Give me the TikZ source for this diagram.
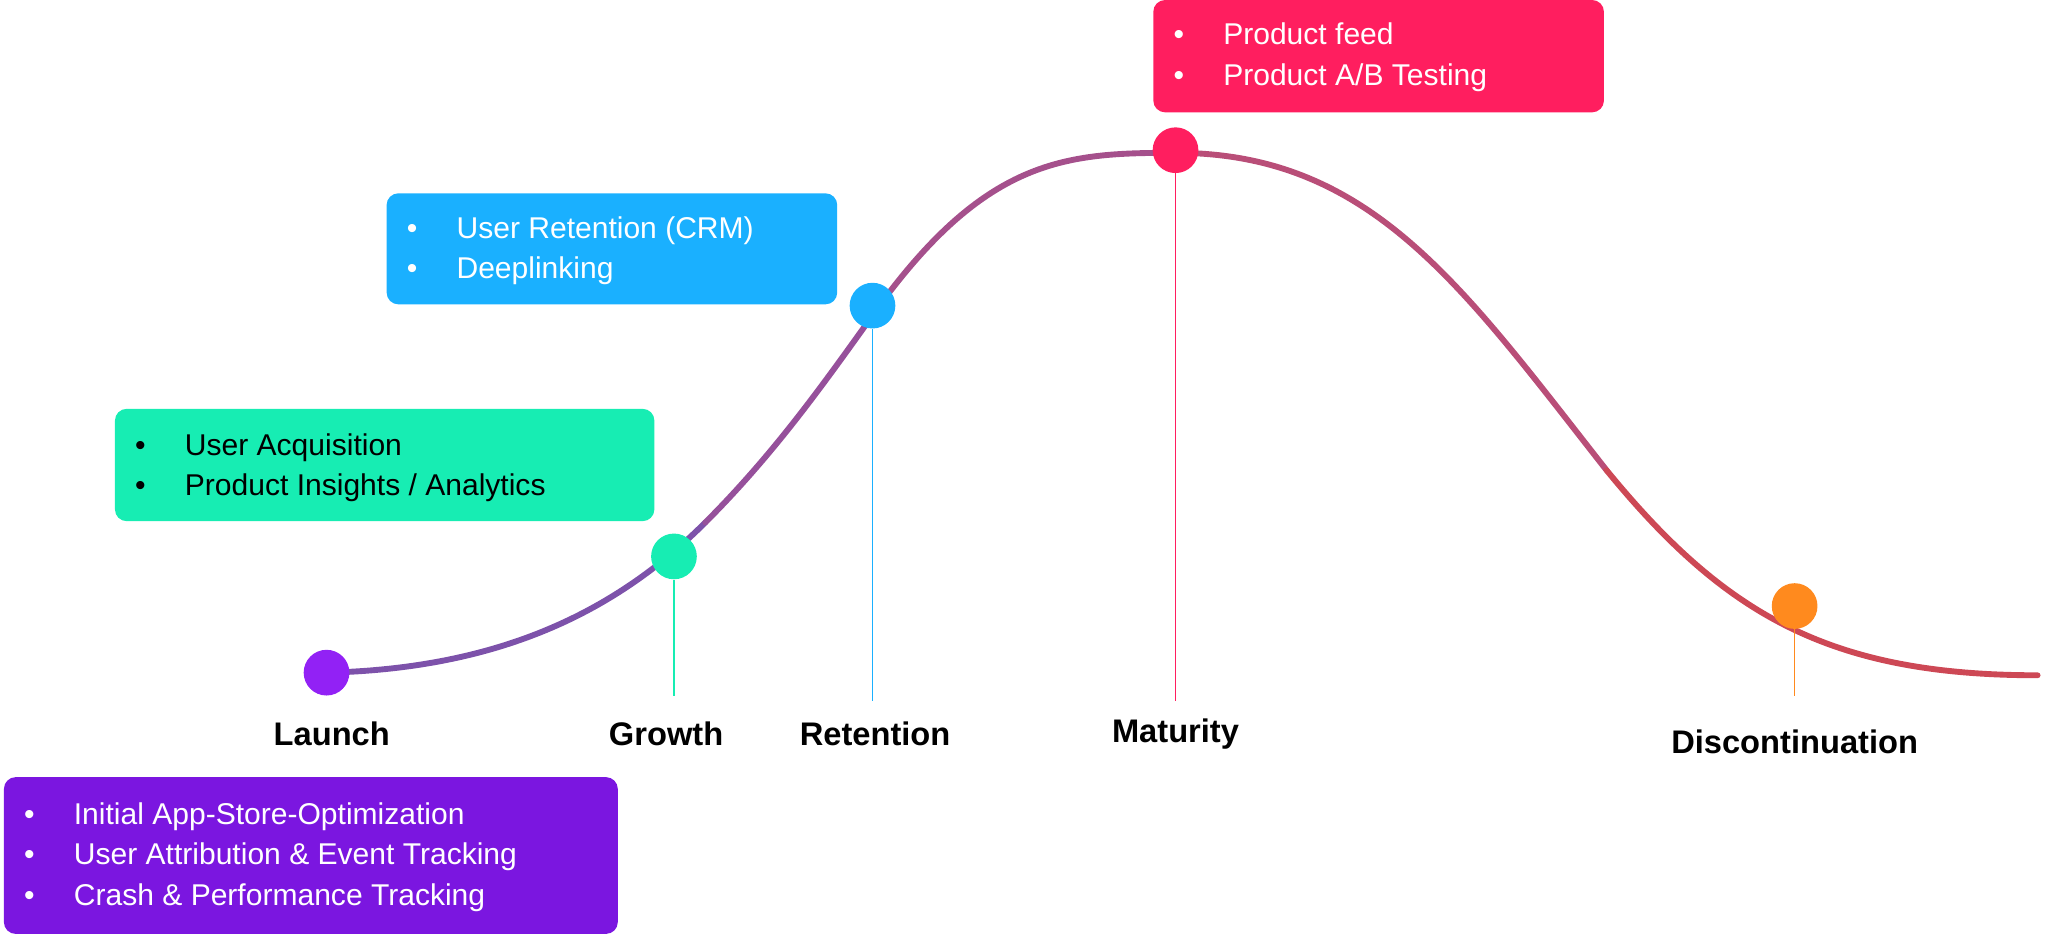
\documentclass[tikz,border=0pt]{standalone}
\usepackage{fontspec}
\setmainfont{Liberation Sans}
\begin{document}
\begin{tikzpicture}[x=1pt,y=-1pt,
 box/.style={rounded corners=9pt,inner sep=0pt},
 bt/.style={font=\fontsize{23}{31}\selectfont,anchor=west,align=left},
 dot/.style={circle,minimum size=35pt,inner sep=0pt},
 lab/.style={font=\fontsize{25}{30}\selectfont\bfseries}]
\definecolor{cg}{HTML}{17EDB3}\definecolor{cb}{HTML}{1AB0FF}
\definecolor{cr}{HTML}{FF1E5F}\definecolor{cp}{HTML}{7B16E0}
\definecolor{cl}{HTML}{9221F5}\definecolor{co}{HTML}{FF8A1E}
\useasboundingbox (0,0) rectangle (1568,718);
% curve
\coordinate (p0) at (250,515); \coordinate (p1) at (540,400);
\coordinate (p2) at (680,225); \coordinate (p3) at (900,117);
\coordinate (p4) at (1230,360); \coordinate (p5) at (1560,517);
\begin{scope}[line width=4.5pt,line cap=round]
\draw[color={rgb,255:red,125;green,82;blue,170}] (p0) .. controls (380,512) and (470,470) .. (p1);
\draw[color={rgb,255:red,150;green,80;blue,155}] (p1) .. controls (600,340) and (640,280) .. (p2);
\draw[color={rgb,255:red,165;green,80;blue,140}] (p2) .. controls (760,120) and (820,117) .. (p3);
\draw[color={rgb,255:red,185;green,78;blue,120}] (p3) .. controls (1050,117) and (1120,220) .. (p4);
\draw[color={rgb,255:red,205;green,72;blue,85}] (p4) .. controls (1320,470) and (1400,517) .. (p5);
\end{scope}
% dots and lines
\node[dot,fill=cl] (d0) at (250,515) {};
\node[dot,fill=cg] (d1) at (516,426) {};
\node[dot,fill=cb] (d2) at (668,234) {};
\node[dot,fill=cr] (d3) at (900,115) {};
\node[dot,fill=co] (d4) at (1374,464) {};
\coordinate (e1) at (516,533); \coordinate (e2) at (668,537);
\coordinate (e3) at (900,537); \coordinate (e4) at (1374,533);
\draw[cg,line width=1pt] (d1) -- (e1);
\draw[cb,line width=1pt] (d2) -- (e2);
\draw[cr,line width=1pt] (d3) -- (e3);
\draw[co,line width=1pt] (d4) -- (e4);
% labels
\node[lab] (l0) at (254,562) {Launch};
\node[lab] (l1) at (510,562) {Growth};
\node[lab] (l2) at (670,562) {Retention};
\node[lab] (l3) at (900,562) {Maturity};
\node[lab] (l4) at (1374,568) {Discontinuation};
% boxes
\fill[box,cg] (88,313) rectangle (501,399);
\node[bt] (tg) at (100,358) {•\hspace{30pt}User Acquisition\\•\hspace{30pt}Product Insights / Analytics};
\fill[box,cb] (296,148) rectangle (641,233);
\node[bt,white] (tb) at (308,192) {•\hspace{30pt}User Retention (CRM)\\•\hspace{30pt}Deeplinking};
\fill[box,cr] (883,0) rectangle (1228,86);
\node[bt,white] (tr) at (895,44) {•\hspace{30pt}Product feed\\•\hspace{30pt}Product A/B Testing};
\fill[box,cp] (3,595) rectangle (473,715);
\node[bt,white] (tp) at (15,656) {•\hspace{30pt}Initial App-Store-Optimization\\•\hspace{30pt}User Attribution \& Event Tracking\\•\hspace{30pt}Crash \& Performance Tracking};
\end{tikzpicture}
\end{document}
